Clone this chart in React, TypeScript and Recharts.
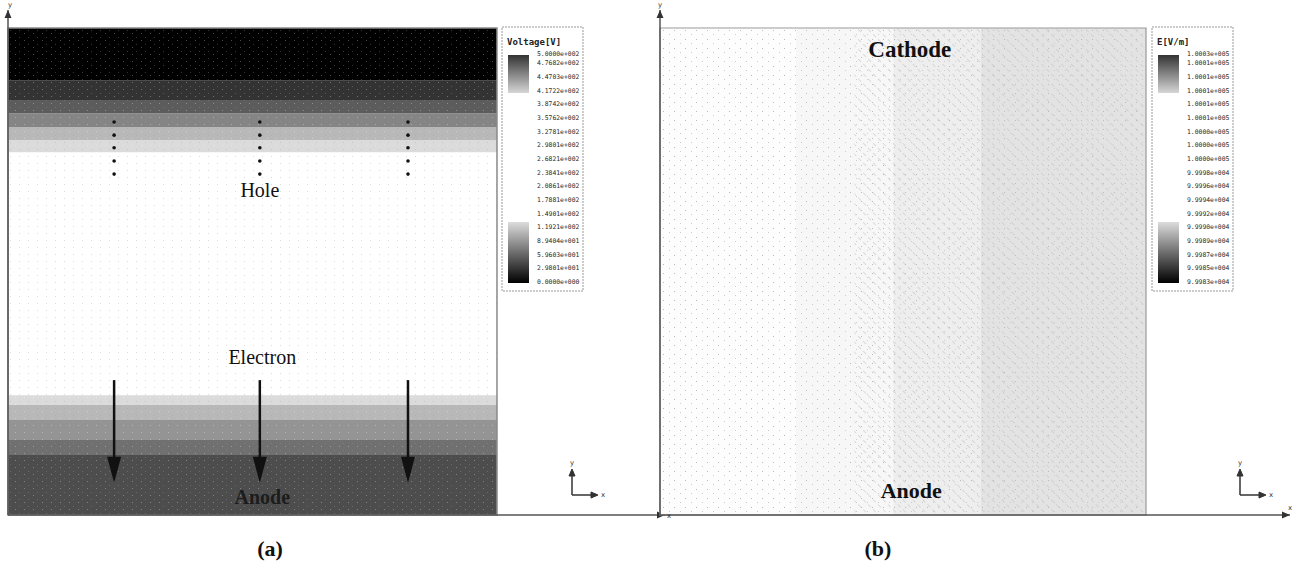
import React from "react"
import {
  ComposedChart,
  XAxis,
  YAxis,
  Scatter,
  ReferenceArea,
  ReferenceLine,
  ReferenceDot,
} from "recharts"

// legend tick labels
const voltageTicks = [
  "5.0000e+002", "4.7682e+002", "4.4703e+002", "4.1722e+002", "3.8742e+002",
  "3.5762e+002", "3.2781e+002", "2.9801e+002", "2.6821e+002", "2.3841e+002",
  "2.0861e+002", "1.7881e+002", "1.4901e+002", "1.1921e+002", "8.9404e+001",
  "5.9603e+001", "2.9801e+001", "0.0000e+000",
]
const fieldTicks = [
  "1.0003e+005", "1.0001e+005", "1.0001e+005", "1.0001e+005", "1.0001e+005",
  "1.0001e+005", "1.0000e+005", "1.0000e+005", "1.0000e+005", "9.9998e+004",
  "9.9996e+004", "9.9994e+004", "9.9992e+004", "9.9990e+004", "9.9989e+004",
  "9.9987e+004", "9.9985e+004", "9.9983e+004",
]

// (a) voltage bands, y as fraction of device height
const bandBottomA = [0, 0.123, 0.154, 0.195, 0.226, 0.745, 0.77, 0.797, 0.825, 0.852, 0.893]
const bandTopA = [0.123, 0.154, 0.195, 0.226, 0.246, 0.77, 0.797, 0.825, 0.852, 0.893, 1]
const bandVoltA = [75, 110, 145, 180, 215, 285, 320, 370, 410, 450, 500]

// hole trails (dots) and electron arrows
const trailX = [0.217, 0.515, 0.818]
const trailY = [0.807, 0.78, 0.754, 0.727, 0.7]
const arrowTopY = 0.277
const arrowTipY = 0.066

// (b) field strips, x as fraction of device width
const stripLeftB = [0, 0.28, 0.48, 0.66]
const stripRightB = [0.28, 0.48, 0.66, 1]
const stripFieldB = [100000.03, 100000.12, 100000.25, 100000.4]

const XMAX_A = 1.3436
const XMAX_B = 1.2963
const YMAX = 1.037

const voltShade = (v: number) => {
  const g = Math.round(255 * (1 - Math.abs(v - 250) / 250))
  return `rgb(${g},${g},${g})`
}
const fieldShade = (e: number) => {
  const g = Math.round(255 - Math.abs(e - 100000) * 70)
  return `rgb(${g},${g},${g})`
}

const dotsA = trailX.flatMap((x) => trailY.map((y) => ({ x, y })))

const serif = '"Liberation Serif", "Times New Roman", serif'

function textShape(label: string, size: number, weight: string, fill: string) {
  return (p: any) => (
    <text
      x={p.cx}
      y={p.cy}
      textAnchor="middle"
      dominantBaseline="central"
      fontFamily={serif}
      fontSize={size}
      fontWeight={weight}
      fill={fill}
    >
      {label}
    </text>
  )
}

const arrowRight = (p: any) => (
  <polygon points={`${p.cx},${p.cy} ${p.cx - 8},${p.cy - 3.5} ${p.cx - 8},${p.cy + 3.5}`} fill="#333" />
)
const arrowUp = (p: any) => (
  <polygon points={`${p.cx},${p.cy} ${p.cx - 3.5},${p.cy + 8} ${p.cx + 3.5},${p.cy + 8}`} fill="#333" />
)
const arrowDown = (p: any) => (
  <polygon points={`${p.cx},${p.cy} ${p.cx - 7},${p.cy - 26} ${p.cx + 7},${p.cy - 26}`} fill="#111" />
)

function VoltagePanel() {
  return (
    <ComposedChart width={670} height={576} margin={{ top: 10, right: 5, bottom: 61, left: 8 }}>
      <XAxis type="number" dataKey="x" domain={[0, XMAX_A]} hide allowDataOverflow />
      <YAxis type="number" dataKey="y" domain={[0, YMAX]} hide allowDataOverflow />
      {bandVoltA.map((v, i) => (
        <ReferenceArea
          key={i}
          x1={0}
          x2={1}
          y1={bandBottomA[i]}
          y2={bandTopA[i]}
          fill={voltShade(v)}
          fillOpacity={1}
          stroke="none"
        />
      ))}
      <ReferenceArea x1={0} x2={1} y1={0} y2={1} fill="url(#speckle)" fillOpacity={1} stroke="#8a8a8a" strokeWidth={1.5} />
      <Scatter
        data={dotsA}
        isAnimationActive={false}
        shape={(p: any) => <circle cx={p.cx} cy={p.cy} r={1.8} fill="#111" />}
      />
      {trailX.map((x, i) => (
        <ReferenceLine
          key={"l" + i}
          segment={[{ x, y: arrowTopY }, { x, y: arrowTipY + 0.04 }]}
          stroke="#111"
          strokeWidth={2.5}
        />
      ))}
      {trailX.map((x, i) => (
        <ReferenceDot key={"h" + i} x={x} y={arrowTipY} r={0} shape={arrowDown} />
      ))}
      <ReferenceDot x={0.515} y={0.667} r={0} shape={textShape("Hole", 20, "normal", "#111")} />
      <ReferenceDot x={0.52} y={0.324} r={0} shape={textShape("Electron", 20, "normal", "#111")} />
      <ReferenceDot x={0.52} y={0.037} r={0} shape={textShape("Anode", 20, "bold", "#1c1c1c")} />
      <ReferenceLine y={0} stroke="#555" strokeWidth={1.5} />
      <ReferenceLine x={0} stroke="#555" strokeWidth={1.5} />
      <ReferenceDot x={XMAX_A} y={0} r={0} shape={arrowRight} />
      <ReferenceDot x={0} y={YMAX} r={0} shape={arrowUp} />
    </ComposedChart>
  )
}

function FieldPanel() {
  return (
    <ComposedChart width={645} height={576} margin={{ top: 10, right: 5, bottom: 61, left: 10 }}>
      <XAxis type="number" dataKey="x" domain={[0, XMAX_B]} hide allowDataOverflow />
      <YAxis type="number" dataKey="y" domain={[0, YMAX]} hide allowDataOverflow />
      {stripFieldB.map((e, i) => (
        <ReferenceArea
          key={i}
          x1={stripLeftB[i]}
          x2={stripRightB[i]}
          y1={0}
          y2={1}
          fill={fieldShade(e)}
          fillOpacity={1}
          stroke="none"
        />
      ))}
      <ReferenceArea x1={0.4} x2={1} y1={0} y2={1} fill="url(#hatch)" fillOpacity={1} stroke="none" />
      <ReferenceArea x1={0} x2={1} y1={0} y2={1} fill="url(#speckleLight)" fillOpacity={1} stroke="#999" strokeWidth={1.2} />
      <ReferenceDot x={0.514} y={0.955} r={0} shape={textShape("Cathode", 23, "bold", "#111")} />
      <ReferenceDot x={0.517} y={0.051} r={0} shape={textShape("Anode", 22, "bold", "#111")} />
      <ReferenceLine y={0} stroke="#555" strokeWidth={1.5} />
      <ReferenceLine x={0} stroke="#555" strokeWidth={1.5} />
      <ReferenceDot x={XMAX_B} y={0} r={0} shape={arrowRight} />
      <ReferenceDot x={0} y={YMAX} r={0} shape={arrowUp} />
    </ComposedChart>
  )
}

function ColorLegend({ x, title, ticks }: { x: number; title: string; ticks: string[] }) {
  const tickY = (i: number) => (i === 0 ? 54 : i === 1 ? 63 : 77 + (i - 2) * 13.67)
  return (
    <g>
      <rect x={x} y={27} width={81} height={264} fill="#fff" stroke="#999" strokeDasharray="2 1" />
      <text x={x + 5} y={45} fontFamily="DejaVu Sans Mono" fontSize={9} fontWeight="bold" fill="#222">
        {title}
      </text>
      <rect x={x + 6} y={55} width={21} height={38} fill="url(#legTop)" />
      <rect x={x + 6} y={222} width={21} height={61} fill="url(#legBot)" />
      {ticks.map((t, i) => (
        <text key={i} x={x + 35} y={tickY(i) + 2} fontFamily="DejaVu Sans Mono" fontSize={6.4} fill="#2a2a2a">
          {t}
        </text>
      ))}
    </g>
  )
}

function Triad({ x, y }: { x: number; y: number }) {
  return (
    <g stroke="#333" fill="#333" fontFamily="DejaVu Sans" fontSize={7}>
      <line x1={x} y1={y} x2={x} y2={y - 20} strokeWidth={1.5} />
      <polygon points={`${x},${y - 26} ${x - 3},${y - 19} ${x + 3},${y - 19}`} />
      <line x1={x} y1={y} x2={x + 20} y2={y} strokeWidth={1.5} />
      <polygon points={`${x + 26},${y} ${x + 19},${y - 3} ${x + 19},${y + 3}`} />
      <text x={x - 2} y={y - 30} stroke="none">y</text>
      <text x={x + 29} y={y + 2} stroke="none">x</text>
    </g>
  )
}

export default function App() {
  return (
    <div style={{ position: "absolute", left: 0, top: 0, width: 1295, height: 576, background: "#fff" }}>
      <svg width={0} height={0} style={{ position: "absolute" }}>
        <defs>
          <linearGradient id="legTop" x1="0" y1="0" x2="0" y2="1">
            <stop offset="0%" stopColor="#333" />
            <stop offset="100%" stopColor="#d6d6d6" />
          </linearGradient>
          <linearGradient id="legBot" x1="0" y1="0" x2="0" y2="1">
            <stop offset="0%" stopColor="#dcdcdc" />
            <stop offset="100%" stopColor="#000" />
          </linearGradient>
          <pattern id="hatch" width="7" height="7" patternUnits="userSpaceOnUse" patternTransform="rotate(-45)">
            <line x1="0" y1="0" x2="0" y2="4" stroke="#bdbdbd" strokeWidth="1" />
          </pattern>
          <pattern id="speckle" width="9" height="7" patternUnits="userSpaceOnUse">
            <rect x="1" y="2" width="1" height="1" fill="#999" fillOpacity="0.35" />
            <rect x="6" y="5" width="1" height="1" fill="#fff" fillOpacity="0.3" />
          </pattern>
          <pattern id="speckleLight" width="11" height="9" patternUnits="userSpaceOnUse">
            <rect x="2" y="3" width="1" height="1" fill="#bbb" />
            <rect x="8" y="7" width="1" height="1" fill="#ccc" />
          </pattern>
        </defs>
      </svg>
      <div style={{ position: "absolute", left: 0, top: 0 }}>
        <VoltagePanel />
      </div>
      <div style={{ position: "absolute", left: 650, top: 0 }}>
        <FieldPanel />
      </div>
      <svg width={1295} height={576} style={{ position: "absolute", left: 0, top: 0, pointerEvents: "none" }}>
        <ColorLegend x={502} title="Voltage[V]" ticks={voltageTicks} />
        <ColorLegend x={1152} title="E[V/m]" ticks={fieldTicks} />
        <Triad x={572} y={495} />
        <Triad x={1240} y={495} />
        <text x={8} y={7} fontFamily="DejaVu Sans" fontSize={7} fill="#333">y</text>
        <text x={667} y={518} fontFamily="DejaVu Sans" fontSize={7} fill="#333">x</text>
        <text x={658} y={7} fontFamily="DejaVu Sans" fontSize={7} fill="#333">y</text>
        <text x={1288} y={510} fontFamily="DejaVu Sans" fontSize={7} fill="#333">x</text>
        <text x={270} y={556} textAnchor="middle" fontFamily={serif} fontSize={22} fontWeight="bold" fill="#111">(a)</text>
        <text x={878} y={556} textAnchor="middle" fontFamily={serif} fontSize={22} fontWeight="bold" fill="#111">(b)</text>
      </svg>
    </div>
  )
}
